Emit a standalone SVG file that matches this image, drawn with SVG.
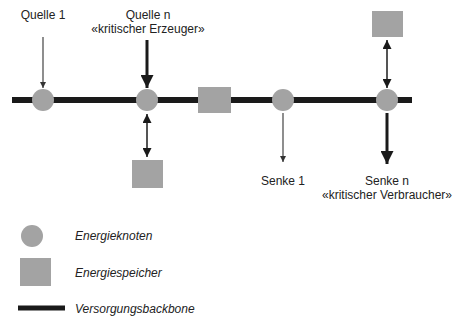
<svg xmlns="http://www.w3.org/2000/svg" width="457" height="322" viewBox="0 0 457 322">
<defs>
<style>
.lbl{font-family:"Liberation Sans","Open Sans",sans-serif;font-size:12px;fill:#222;text-anchor:middle}
.leg{font-family:"Liberation Sans","Open Sans",sans-serif;font-size:12px;font-style:italic;fill:#222}
.node{fill:#a3a3a3}
.store{fill:#a3a3a3}
.thin{stroke:#444;stroke-width:1.2;fill:none}
.thick{stroke:#1a1a1a;stroke-width:3;fill:none}
.dbl{stroke:#555;stroke-width:2;fill:none}
.bb{stroke:#1a1a1a;stroke-width:6;fill:none}
</style>
<marker id="ahs" viewBox="0 0 10 10" refX="10" refY="5" markerWidth="6" markerHeight="6" markerUnits="userSpaceOnUse" orient="auto"><path d="M0,0 L10,5 L0,10 z" fill="#333"/></marker>
<marker id="ahl" viewBox="0 0 10 10" refX="10" refY="5" markerWidth="14" markerHeight="13" markerUnits="userSpaceOnUse" orient="auto"><path d="M0,0 L10,5 L0,10 z" fill="#1a1a1a"/></marker>
<marker id="ahm" viewBox="0 0 10 10" refX="10" refY="5" markerWidth="9" markerHeight="9" markerUnits="userSpaceOnUse" orient="auto-start-reverse"><path d="M0,0 L10,5 L0,10 z" fill="#1a1a1a"/></marker>
</defs>
<g id="connectors">
<line class="bb" x1="12" y1="100" x2="412" y2="100"/>
<line class="thin" x1="43" y1="37" x2="43" y2="88" marker-end="url(#ahs)"/>
<line class="thick" x1="147" y1="40" x2="147" y2="88" marker-end="url(#ahl)"/>
<line class="dbl" x1="147" y1="114" x2="147" y2="157" marker-start="url(#ahm)" marker-end="url(#ahm)"/>
<line class="dbl" x1="387" y1="40" x2="387" y2="88" marker-start="url(#ahm)" marker-end="url(#ahm)"/>
<line class="thin" x1="283" y1="113" x2="283" y2="162" marker-end="url(#ahs)"/>
<line class="thick" x1="387" y1="113" x2="387" y2="164" marker-end="url(#ahl)"/>
</g>
<g id="node-quelle1"><circle class="node" cx="43" cy="100" r="11"/><text class="lbl" x="43" y="19">Quelle 1</text></g>
<g id="node-quellen"><circle class="node" cx="147" cy="100" r="11"/><text class="lbl" x="148" y="19">Quelle n</text><text class="lbl" x="148" y="32.5">«kritischer Erzeuger»</text></g>
<g id="store-mid"><rect class="store" x="198" y="87" width="33" height="26"/></g>
<g id="store-bottom"><rect class="store" x="132" y="160" width="31" height="28"/></g>
<g id="node-senke1"><circle class="node" cx="283" cy="100" r="11"/><text class="lbl" x="283" y="185">Senke 1</text></g>
<g id="node-senken"><circle class="node" cx="387" cy="100" r="11"/><text class="lbl" x="387" y="185">Senke n</text><text class="lbl" x="387" y="198.5">«kritischer Verbraucher»</text></g>
<g id="store-top"><rect class="store" x="372" y="11" width="31" height="26"/></g>
<g id="legend">
<circle class="node" cx="32" cy="236" r="11"/>
<text class="leg" x="75" y="240">Energieknoten</text>
<rect class="store" x="20" y="258" width="31" height="28"/>
<text class="leg" x="75" y="277">Energiespeicher</text>
<line class="bb" x1="18" y1="308" x2="65" y2="308" style="stroke-width:5"/>
<text class="leg" x="75" y="313">Versorgungsbackbone</text>
</g>
</svg>
